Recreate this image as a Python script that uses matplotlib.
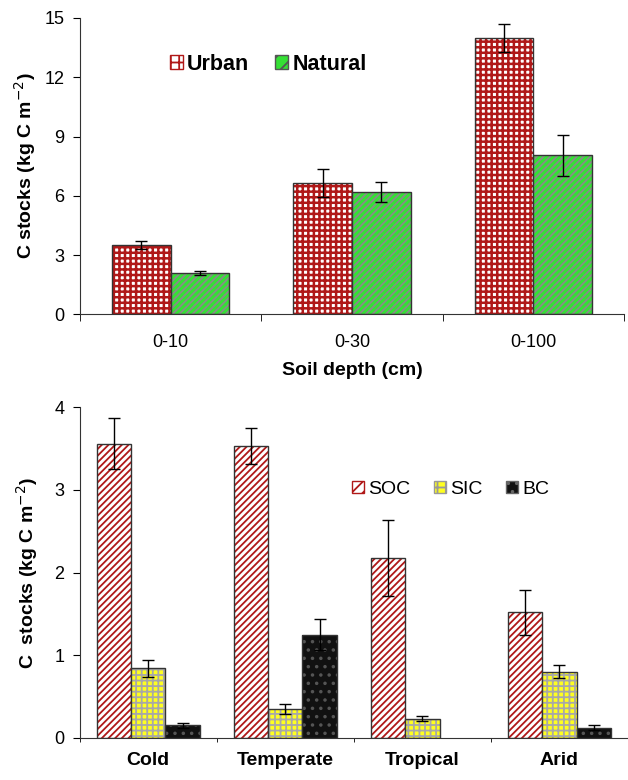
import numpy as np
import matplotlib.pyplot as plt
from matplotlib.patches import Patch

plt.rcParams['font.family'] = ['Liberation Sans', 'DejaVu Sans']
plt.rcParams['hatch.linewidth'] = 1.3

# top panel: urban vs natural soils
depths = ['0-10', '0-30', '0-100']
urban = [3.5, 6.65, 14.0]
urban_err = [0.2, 0.7, 0.7]
natural = [2.1, 6.2, 8.05]
natural_err = [0.1, 0.5, 1.05]

# bottom panel: climate zones
zones = ['Cold', 'Temperate', 'Tropical', 'Arid']
soc = [3.56, 3.53, 2.17, 1.52]
soc_err = [0.31, 0.22, 0.46, 0.27]
sic = [0.84, 0.35, 0.23, 0.80]
sic_err = [0.10, 0.06, 0.03, 0.08]
bc = [0.15, 1.25, 0.0, 0.12]
bc_err = [0.03, 0.19, 0.0, 0.03]

fig = plt.figure(figsize=(6.28, 7.8), dpi=100)
ax1 = fig.add_axes([0.127, 0.597, 0.867, 0.38])
ax2 = fig.add_axes([0.127, 0.054, 0.873, 0.424])


def style_axis(ax, n):
    for s in ['top', 'right']:
        ax.spines[s].set_visible(False)
    ax.spines['left'].set_color('#333333')
    ax.spines['bottom'].set_color('#333333')
    ax.set_xlim(-0.5, n - 0.5)
    ax.set_xticks(np.arange(n))
    ax.set_xticks(np.arange(n + 1) - 0.5, minor=True)
    ax.tick_params(axis='x', which='major', length=0, pad=14)
    ax.tick_params(axis='x', which='minor', length=5, direction='out')
    ax.tick_params(axis='y', length=5, direction='out', labelsize=13, pad=6)


ekw = dict(ecolor='black', capsize=4, elinewidth=1, capthick=1)

# top chart
x = np.arange(len(depths))
w = 0.325
with plt.rc_context({'hatch.linewidth': 1.8}):
    ax1.bar(x - w / 2, urban, w, yerr=urban_err, color='white', edgecolor='#b01818',
            hatch='+++', linewidth=0, error_kw=ekw)
ax1.bar(x - w / 2, urban, w, color='none', edgecolor='#333333', linewidth=1)
ax1.bar(x + w / 2, natural, w, yerr=natural_err, color='#35e035', edgecolor='#8a8a8a',
        hatch='/////', linewidth=0, error_kw=ekw)
ax1.bar(x + w / 2, natural, w, color='none', edgecolor='#333333', linewidth=1)
style_axis(ax1, len(depths))
ax1.set_ylim(0, 15)
ax1.set_yticks([0, 3, 6, 9, 12, 15])
ax1.set_xticklabels(depths, fontsize=13)
ax1.set_xlabel('Soil depth (cm)', fontsize=14, fontweight='bold', labelpad=8)
ax1.set_ylabel('C stocks (kg C m$^{-2}$)', fontsize=14, fontweight='bold', labelpad=5)

h1 = [Patch(facecolor='white', edgecolor='#b01818', hatch='++', linewidth=1),
      Patch(facecolor='#35e035', edgecolor='#555555', hatch='//', linewidth=1)]
ax1.legend(h1, ['Urban', 'Natural'], loc='upper left', bbox_to_anchor=(0.13, 0.945),
           ncol=2, frameon=False, handlelength=0.6, handleheight=0.6,
           handletextpad=0.2, columnspacing=1.2, prop={'weight': 'bold', 'size': 15.5})

# bottom chart
x2 = np.arange(len(zones))
w2 = 0.25
ax2.bar(x2 - w2, soc, w2, yerr=soc_err, color='white', edgecolor='#b01818',
        hatch='/////', linewidth=0, error_kw=ekw)
ax2.bar(x2 - w2, soc, w2, color='none', edgecolor='#333333', linewidth=1)
ax2.bar(x2, sic, w2, yerr=sic_err, color='#ffff20', edgecolor='#a8a8a8',
        hatch='+++', linewidth=0, error_kw=ekw)
ax2.bar(x2, sic, w2, color='none', edgecolor='#333333', linewidth=1)
bc_mask = np.array(bc) > 0
ax2.bar(x2[bc_mask] + w2, np.array(bc)[bc_mask], w2, yerr=np.array(bc_err)[bc_mask],
        color='#111111', edgecolor='#555555', hatch='..', linewidth=0, error_kw=ekw)
ax2.bar(x2[bc_mask] + w2, np.array(bc)[bc_mask], w2, color='none',
        edgecolor='#333333', linewidth=1)
style_axis(ax2, len(zones))
ax2.set_ylim(0, 4)
ax2.set_yticks([0, 1, 2, 3, 4])
ax2.tick_params(axis='x', which='minor', length=3)
ax2.tick_params(axis='x', which='major', pad=10)
ax2.set_xticklabels(zones, fontsize=14, fontweight='bold')
ax2.set_ylabel('C  stocks (kg C m$^{-2}$)', fontsize=14, fontweight='bold', labelpad=10)

h2 = [Patch(facecolor='white', edgecolor='#b01818', hatch='///', linewidth=1),
      Patch(facecolor='#ffff20', edgecolor='#999999', hatch='++', linewidth=1),
      Patch(facecolor='#111111', edgecolor='#666666', hatch='..', linewidth=1)]
ax2.legend(h2, ['SOC', 'SIC', 'BC'], loc='upper left', bbox_to_anchor=(0.465, 0.83),
           ncol=3, frameon=False, handlelength=0.6, handleheight=0.6,
           handletextpad=0.2, columnspacing=1.25, prop={'size': 14})

plt.savefig('out.png', dpi=100)
